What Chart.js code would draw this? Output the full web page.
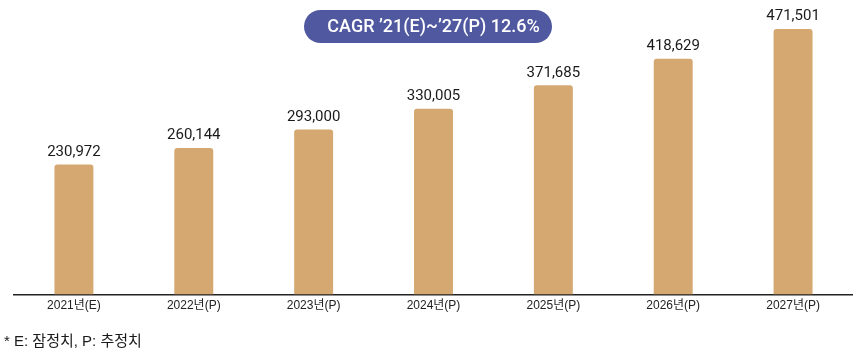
<!DOCTYPE html>
<html>
<head>
<meta charset="utf-8">
<script src="https://cdn.jsdelivr.net/npm/chart.js@4.4.1/dist/chart.umd.min.js"></script>
<style>
  html, body { margin: 0; padding: 0; background: #fff; }
  #wrap { position: relative; width: 853px; height: 363px; }
</style>
</head>
<body>
<div id="wrap"><canvas id="chart"></canvas></div>
<script>
const categories = ['2021년(E)', '2022년(P)', '2023년(P)', '2024년(P)', '2025년(P)', '2026년(P)', '2027년(P)'];
const marketValues = [230972, 260144, 293000, 330005, 371685, 418629, 471501];
const cagrText = 'CAGR \u201921(E)~\u201927(P) 12.6%';
const footnote = '* E: 잠정치, P: 추정치';

const font = '"Liberation Sans", Arial, "Noto Sans CJK KR", sans-serif';
const numFont = 'Roboto, "Liberation Sans", Arial, sans-serif';

const decorations = {
    id: 'decorations',
    afterDatasetsDraw(chart) {
        const ctx = chart.ctx;
        const meta = chart.getDatasetMeta(0);
        ctx.save();
        // value labels
        ctx.fillStyle = '#1a1a1a';
        ctx.font = '15px ' + numFont;
        ctx.textAlign = 'center';
        ctx.textBaseline = 'bottom';
        meta.data.forEach((bar, i) => {
            ctx.fillText(marketValues[i].toLocaleString('en-US'), bar.x, bar.y - 5);
        });

        // CAGR pill
        const cx = (chart.chartArea.left + chart.chartArea.right) / 2;
        const w = 248, h = 33, y = 10;
        ctx.fillStyle = '#5058a0';
        ctx.beginPath();
        ctx.roundRect(cx - 129.5, y, w, h, h / 2);
        ctx.fill();
        ctx.fillStyle = '#ffffff';
        ctx.font = '500 18px ' + numFont;
        ctx.textBaseline = 'middle';
        ctx.fillText(cagrText, cx, y + h / 2 + 1);

        // footnote
        ctx.fillStyle = '#1a1a1a';
        ctx.font = '15px ' + font;
        ctx.textAlign = 'left';
        ctx.fillText(footnote, 4, 342);
        ctx.restore();
    }
};

new Chart(document.getElementById('chart'), {
    type: 'bar',
    data: {
        labels: categories,
        datasets: [{
            data: marketValues,
            backgroundColor: '#d4a870',
            borderRadius: { topLeft: 3, topRight: 3 },
            borderSkipped: 'bottom',
            categoryPercentage: 1,
            barPercentage: 0.325
        }]
    },
    options: {
        responsive: true,
        maintainAspectRatio: false,
        animation: false,
        layout: { padding: { left: 14, right: 0, top: 13, bottom: 46 } },
        plugins: {
            legend: { display: false },
            tooltip: { enabled: false }
        },
        scales: {
            x: {
                grid: { display: false, drawTicks: false },
                border: { display: true, color: '#222', width: 1.5 },
                ticks: {
                    color: '#222',
                    font: { family: font, size: 12 },
                    padding: 4,
                    maxRotation: 0
                }
            },
            y: {
                display: false,
                min: 0,
                max: 500000
            }
        }
    },
    plugins: [decorations]
});
</script>
</body>
</html>
